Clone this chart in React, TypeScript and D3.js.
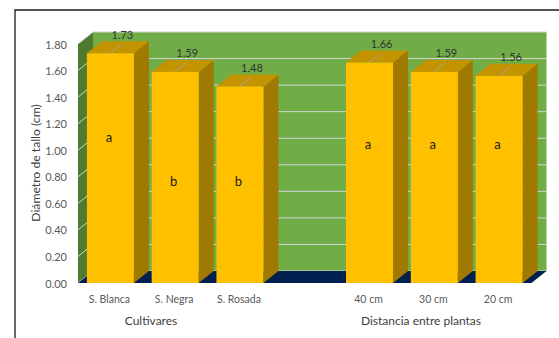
import React from "react";
import * as d3 from "d3";

// Stem diameter (cm) by cultivar and by plant spacing
const cultivars = ["S. Blanca", "S. Negra", "S. Rosada"];
const cultivarValues = [1.73, 1.59, 1.48];
const cultivarLetters = ["a", "b", "b"];

const spacings = ["40 cm", "30 cm", "20 cm"];
const spacingValues = [1.66, 1.59, 1.56];
const spacingLetters = ["a", "a", "a"];

const yTicks = [0, 0.2, 0.4, 0.6, 0.8, 1.0, 1.2, 1.4, 1.6, 1.8];
const yTitle = "Diámetro de tallo (cm)";
const groupTitles = ["Cultivares", "Distancia entre plantas"];

const W = 559;
const H = 338;
const FONT = "Lato, 'Open Sans', sans-serif";

// 3D depth offset of the chart box
const DX = 15;
const DY = 12;

const GAP = "__gap__";

type Bar = { key: string; label: string; value: number; letter: string; letterAt: number };

// where the significance letters sit inside each bar (value units)
const letterHeights = [1.1, 0.77, 0.77, 1.05, 1.05, 1.05];

export default function App() {
  const bars: Bar[] = [
    ...cultivars.map((c, i) => ({ key: c, label: c, value: cultivarValues[i], letter: cultivarLetters[i], letterAt: letterHeights[i] })),
    ...spacings.map((c, i) => ({ key: c, label: c, value: spacingValues[i], letter: spacingLetters[i], letterAt: letterHeights[i + 3] })),
  ];
  const domain = [...cultivars, GAP, ...spacings];

  const left = 78;
  const right = 531.5;
  const bottom = 283;
  const top = 44;

  const x = d3.scaleBand<string>().domain(domain).range([left, right]).paddingInner(0.274).paddingOuter(0.137);
  const y = d3.scaleLinear().domain([0, 1.8]).range([bottom, top]);
  const fmt = d3.format(".2f");
  const bw = x.bandwidth();

  const green = "#70ad47";
  const sideGreen = "#4e7b2f";
  const floor = "#002050";
  const grid = "#d4d4d4";
  const front = "#ffc000";
  const topFace = "#c49300";
  const sideFace = "#a07900";

  const pts = (p: [number, number][]) => p.map((q) => q.join(",")).join(" ");

  return (
    <svg width={W} height={H} style={{ position: "absolute", left: 0, top: 0, background: "#fff" }} fontFamily={FONT}>
      {/* outer frame */}
      <path d={`M15,${H} L15,10 L${W},10`} fill="none" stroke="#1a1a1a" strokeWidth={1.3} />

      {/* back wall */}
      <rect x={left + DX} y={top - DY} width={right - left} height={bottom - top} fill={green} />
      {yTicks.map((t) => (
        <line key={"g" + t} x1={left + DX} x2={right + DX} y1={y(t) - DY} y2={y(t) - DY} stroke={grid} strokeWidth={1} />
      ))}

      {/* side wall */}
      <polygon
        points={pts([
          [left, top],
          [left + DX, top - DY],
          [left + DX, bottom - DY],
          [left, bottom],
        ])}
        fill={sideGreen}
      />
      {yTicks.map((t) => (
        <line key={"s" + t} x1={left} y1={y(t)} x2={left + DX} y2={y(t) - DY} stroke={grid} strokeWidth={1} />
      ))}

      {/* floor */}
      <polygon
        points={pts([
          [left, bottom],
          [right, bottom],
          [right + DX, bottom - DY],
          [left + DX, bottom - DY],
        ])}
        fill={floor}
      />

      {/* bars */}
      {bars.map((b) => {
        const x0 = x(b.key)!;
        const x1 = x0 + bw;
        const yt = y(b.value);
        return (
          <g key={b.key}>
            <polygon
              points={pts([
                [x1, yt],
                [x1 + DX, yt - DY],
                [x1 + DX, bottom - DY],
                [x1, bottom],
              ])}
              fill={sideFace}
            />
            <polygon
              points={pts([
                [x0, yt],
                [x0 + DX, yt - DY],
                [x1 + DX, yt - DY],
                [x1, yt],
              ])}
              fill={topFace}
            />
            <rect x={x0} y={yt} width={bw} height={bottom - yt} fill={front} />
          </g>
        );
      })}

      {/* value labels with leader lines */}
      {bars.map((b) => {
        const cx = x(b.key)! + bw / 2;
        const yt = y(b.value);
        return (
          <g key={"v" + b.key}>
            <line x1={cx} y1={yt - 0.5} x2={cx + 11} y2={yt - 9} stroke="#a6a6a6" strokeWidth={1} />
            <text x={cx + 12} y={yt - 19} textAnchor="middle" dominantBaseline="central" fontSize={11} fill="#333333">
              {fmt(b.value)}
            </text>
          </g>
        );
      })}

      {/* significance letters */}
      {bars.map((b) => (
        <text
          key={"l" + b.key}
          x={x(b.key)! + bw / 2 - 1.5}
          y={y(b.letterAt)}
          textAnchor="middle"
          dominantBaseline="central"
          fontSize={13}
          fill="#1a1a1a"
        >
          {b.letter}
        </text>
      ))}

      {/* y axis tick labels */}
      {yTicks.map((t) => (
        <text key={"t" + t} x={67} y={y(t)} textAnchor="end" dominantBaseline="central" fontSize={11} fill="#595959">
          {fmt(t)}
        </text>
      ))}

      {/* category labels */}
      {bars.map((b) => (
        <text
          key={"c" + b.key}
          x={x(b.key)! + bw / 2 - 1}
          y={299}
          textAnchor="middle"
          dominantBaseline="central"
          fontSize={10.5}
          fill="#595959"
        >
          {b.label}
        </text>
      ))}

      {/* group titles */}
      <text x={151} y={320} textAnchor="middle" dominantBaseline="central" fontSize={12} fill="#404040">
        {groupTitles[0]}
      </text>
      <text x={421} y={320} textAnchor="middle" dominantBaseline="central" fontSize={12} fill="#404040">
        {groupTitles[1]}
      </text>

      {/* y axis title */}
      <text
        transform={`translate(35,${163}) rotate(-90)`}
        textAnchor="middle"
        dominantBaseline="central"
        fontSize={12.2}
        fill="#404040"
      >
        {yTitle}
      </text>
    </svg>
  );
}
